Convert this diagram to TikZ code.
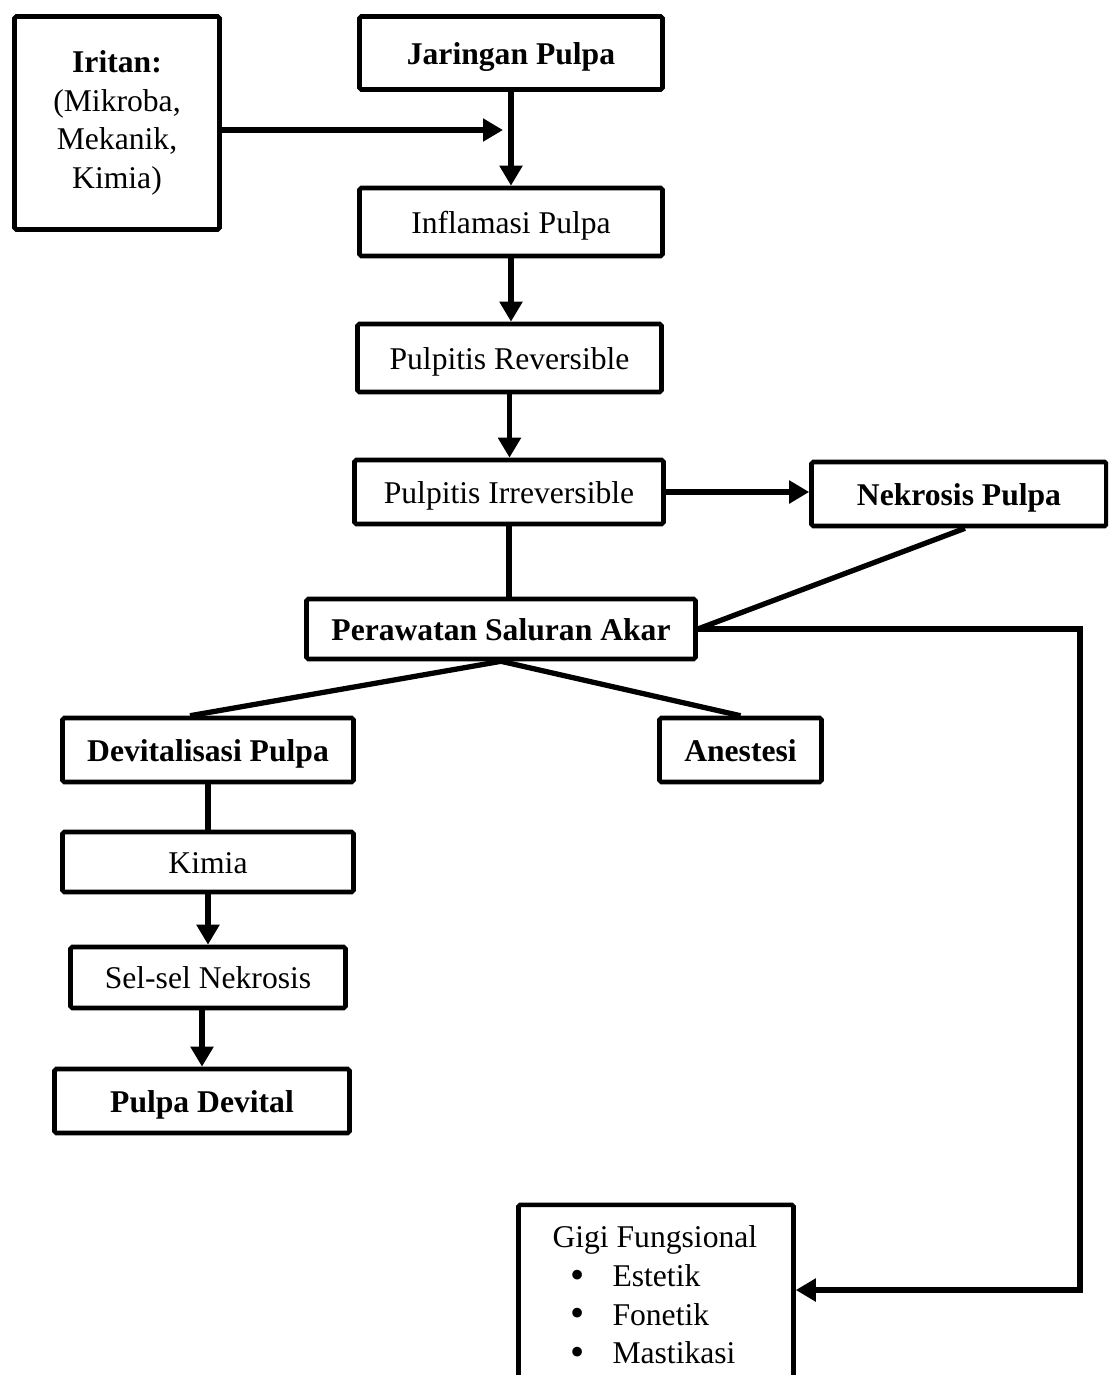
\documentclass[tikz,border=0pt]{standalone}
\usepackage{fontspec}
\setmainfont{Liberation Serif}
\usetikzlibrary{arrows.meta, positioning, calc}
\newcommand{\bigdot}{\raisebox{-0.06em}{\fontsize{23}{22}\selectfont\textbullet}}
\tikzset{
  every picture/.style={font=\fontsize{18}{22}\selectfont, line width=2.6pt},
  frame/.style={draw, rectangle, rounded corners=1pt, align=center, inner sep=4pt},
  box/.style={frame, minimum height=1.36cm, text height=15pt, text depth=2pt},
  boldbox/.style={box, font=\fontsize{18}{22}\selectfont\bfseries},
  arrow/.style={-{Triangle[length=0.4cm, width=0.44cm]}, line width=3pt},
  link/.style={line width=3pt},
}
\begin{document}
\begin{tikzpicture}
  \useasboundingbox (0,0) rectangle (22.16,-27.5);
  \clip (0,0) rectangle (22.16,-27.5);
  % main column
  \node[frame, minimum width=4.1cm, minimum height=4.26cm] (iritan) at (2.34,-2.46)
    {\textbf{Iritan:}\\(Mikroba,\\Mekanik,\\Kimia)};
  \node[boldbox, minimum width=6.06cm, minimum height=1.46cm] (jaringan) at (10.22,-1.06) {Jaringan Pulpa};
  \node[box, minimum width=6.06cm, minimum height=1.36cm] (inflamasi) at (10.22,-4.44) {Inflamasi Pulpa};
  \node[box, minimum width=6.08cm, minimum height=1.36cm] (reversible) at (10.19,-7.16) {Pulpitis Reversible};
  \node[box, minimum width=6.18cm, minimum height=1.28cm] (irreversible) at (10.18,-9.84) {Pulpitis Irreversible};
  \node[boldbox, minimum width=5.9cm, minimum height=1.28cm] (nekrosis) at (19.18,-9.88) {Nekrosis Pulpa};
  \node[boldbox, minimum width=7.78cm, minimum height=1.2cm] (perawatan) at (10.02,-12.58) {Perawatan Saluran Akar};
  % branches
  \node[boldbox, minimum width=5.82cm, minimum height=1.28cm] (devital) at (4.16,-15.0) {Devitalisasi Pulpa};
  \node[boldbox, minimum width=3.24cm, minimum height=1.28cm] (anestesi) at (14.81,-15.0) {Anestesi};
  \node[box, minimum width=5.82cm, minimum height=1.2cm] (kimia) at (4.16,-17.24) {Kimia};
  \node[box, minimum width=5.5cm, minimum height=1.22cm] (selsel) at (4.16,-19.55) {Sel-sel Nekrosis};
  \node[boldbox, minimum width=5.9cm, minimum height=1.28cm] (pulpadev) at (4.04,-22.02) {Pulpa Devital};
  % result box, cut by the page edge
  \node[frame, minimum width=5.5cm, minimum height=4.4cm, anchor=north] (gigi) at (13.12,-24.05) {};
  \node[anchor=north west, align=left, inner sep=0pt] (gigitext) at ($(gigi.north west)+(0.68,-0.42)$)
    {Gigi Fungsional\\
     \hspace*{0.36cm}\makebox[0.84cm][l]{\bigdot}Estetik\\
     \hspace*{0.36cm}\makebox[0.84cm][l]{\bigdot}Fonetik\\
     \hspace*{0.36cm}\makebox[0.84cm][l]{\bigdot}Mastikasi};
  \coordinate (iritanend) at (10.06,-2.6);
  \coordinate (corner) at (21.6,-25.8);
  % connectors
  \draw[arrow] (jaringan.south) -- (inflamasi.north);
  \draw[arrow] (iritan.east |- iritanend) -- (iritanend);
  \draw[arrow] (inflamasi.south) -- (inflamasi.south |- reversible.north);
  \draw[arrow] (reversible.south) -- (reversible.south |- irreversible.north);
  \draw[arrow] (irreversible.east) -- (irreversible.east -| nekrosis.west);
  \draw[link] (irreversible.south) -- (irreversible.south |- perawatan.north);
  \draw[link] ([xshift=0.12cm]nekrosis.south) -- (perawatan.east);
  \draw[arrow] (perawatan.east) -| (corner) -- (gigi.east |- corner);
  \draw[link] (perawatan.south) -- ([xshift=-0.36cm]devital.north);
  \draw[link] (perawatan.south) -- (anestesi.north);
  \draw[link] (devital.south) -- (devital.south |- kimia.north);
  \draw[arrow] (kimia.south) -- (selsel.north);
  \draw[arrow] (pulpadev.north |- selsel.south) -- (pulpadev.north);
\end{tikzpicture}
\end{document}
